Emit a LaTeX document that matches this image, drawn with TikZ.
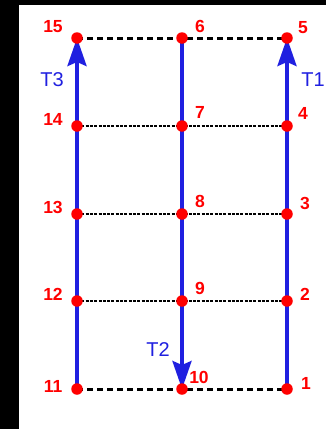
\documentclass[tikz,border=0pt]{standalone}
\usepackage{fontspec}
\setmainfont{Liberation Sans}
\usetikzlibrary{arrows.meta}
\definecolor{lineblue}{RGB}{32,32,224}
\definecolor{dotred}{RGB}{255,0,0}
\begin{document}
\begin{tikzpicture}[x=1pt,y=-1pt,
  dot/.style={circle,fill=dotred,inner sep=0pt,minimum size=11.5pt},
  num/.style={text=dotred,font=\bfseries\fontsize{17.5}{17.5}\selectfont,inner sep=0pt},
  tlab/.style={text=lineblue,font=\fontsize{20}{20}\selectfont,inner sep=0pt},
  thickdash/.style={black,line width=3pt,dash pattern=on 5.5pt off 4.5pt},
  thindash/.style={black,line width=2pt,dash pattern=on 3pt off 1.3pt},
  track/.style={lineblue,line width=3.6pt},
  tip/.style={-{Stealth[length=28pt,width=19pt,inset=4pt]}}]
\useasboundingbox (0,0) rectangle (326,429);
\fill[white] (0,0) rectangle (326,429);
\fill[black] (0,0) rectangle (19,429);
\fill[black] (0,0) rectangle (326,5);
% points
\coordinate (p15) at (77,38);  \coordinate (p6) at (182,38);  \coordinate (p5) at (287,38);
\coordinate (p14) at (77,126); \coordinate (p7) at (182,126); \coordinate (p4) at (287,126);
\coordinate (p13) at (77,214); \coordinate (p8) at (182,214); \coordinate (p3) at (287,214);
\coordinate (p12) at (77,301); \coordinate (p9) at (182,301); \coordinate (p2) at (287,301);
\coordinate (p11) at (77,389); \coordinate (p10) at (182,389); \coordinate (p1) at (287,389);
% dashed lines
\draw[thickdash] (p15) -- (p5);
\draw[thickdash] (p11) -- (p1);
\draw[thindash] (p14) -- (p4);
\draw[thindash] (p13) -- (p3);
\draw[thindash] (p12) -- (p2);
% tracks
\draw[track,tip] (p11) -- (p15);
\draw[track,tip] (p1) -- (p5);
\draw[track,tip] (p6) -- (p10);
% dots
\foreach \p in {p1,p2,p3,p4,p5,p6,p7,p8,p9,p10,p11,p12,p13,p14,p15}
  \node[dot] (d\p) at (\p) {};
% number labels
\node[num] (l15) at (53,27) {15};
\node[num] (l6) at (200,26) {6};
\node[num] (l5) at (303,28) {5};
\node[num] (l14) at (53,119) {14};
\node[num] (l7) at (200,112) {7};
\node[num] (l4) at (303,113) {4};
\node[num] (l13) at (53,207) {13};
\node[num] (l8) at (200,201) {8};
\node[num] (l3) at (305,203) {3};
\node[num] (l12) at (53,294) {12};
\node[num] (l9) at (200,288) {9};
\node[num] (l2) at (305,294) {2};
\node[num] (l11) at (53,386) {11};
\node[num] (l10) at (199,377) {10};
\node[num] (l1) at (306,383) {1};
% track labels
\node[tlab] (t3) at (52,80) {T3};
\node[tlab] (t1) at (313,80) {T1};
\node[tlab] (t2) at (158,350) {T2};
\end{tikzpicture}
\end{document}
